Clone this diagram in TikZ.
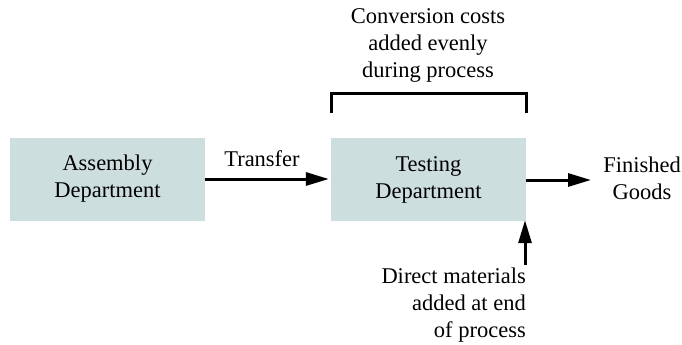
\documentclass[tikz,border=0pt]{standalone}
\usepackage{fontspec}
\setmainfont{Liberation Serif}
\usetikzlibrary{arrows.meta}
\definecolor{boxfill}{RGB}{205,222,222}
\begin{document}
\begin{tikzpicture}[x=1pt,y=-1pt,
  dept/.style={fill=boxfill,draw=none,minimum width=195pt,minimum height=83pt,inner sep=0pt,align=center,font=\fontsize{22.5}{27}\selectfont},
  lbl/.style={inner sep=0pt,font=\fontsize{22.5}{27}\selectfont},
  flow/.style={line width=3pt,-{Triangle[length=23pt,width=13pt]}},
  brk/.style={line width=3pt}]
\useasboundingbox (0,0) rectangle (682,345);
\node[dept] (asm) at (107.5,179) {Assembly\\Department};
\node[dept] (tst) at (428.5,179.5) {Testing\\Department};
\node[lbl,anchor=base] (tr) at (262,166) {Transfer};
\node[lbl,align=center] (fg) at (642,178) {Finished\\Goods};
\node[lbl,align=center] (cc) at (428,45) {Conversion costs\\added evenly\\during process};
\node[lbl,align=right,anchor=north east] (dm) at (526,268) {Direct materials\\added at end\\of process};
\coordinate (bl) at (331,113);
\coordinate (br) at (526,113);
\coordinate (fgend) at (591,180);
\coordinate (dmstart) at (525,265);
\draw[flow] (asm.east |- 0,179) -- ([xshift=-2pt]tst.west |- 0,179);
\draw[flow] (tst.east |- 0,180) -- (fgend);
\draw[flow] (dmstart) -- ([yshift=1pt]dmstart |- tst.south);
\draw[brk] (bl) -- ++(0,-20) -| (br);
\end{tikzpicture}
\end{document}
